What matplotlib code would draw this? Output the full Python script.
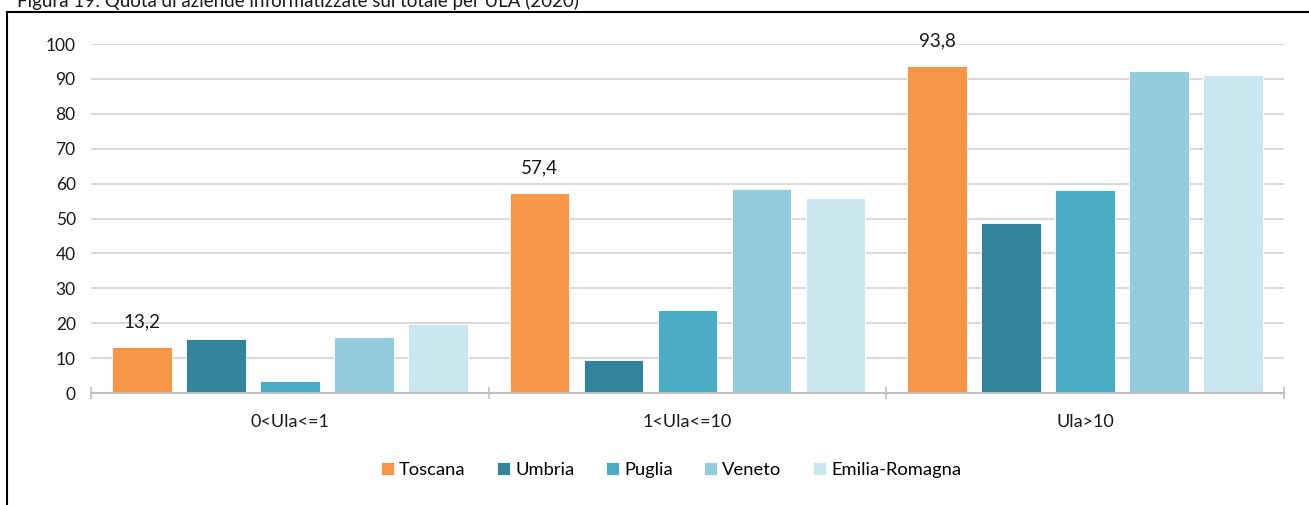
import numpy as np
import matplotlib.pyplot as plt
from matplotlib.patches import Rectangle
from matplotlib.ticker import FixedLocator

plt.rcParams['font.family'] = ['Lato', 'DejaVu Sans']
plt.rcParams['font.size'] = 13

# share of computerised firms by ULA class, per region
categories = ['0<Ula<=1', '1<Ula<=10', 'Ula>10']
regions = ['Toscana', 'Umbria', 'Puglia', 'Veneto', 'Emilia-Romagna']
toscana = [13.2, 57.4, 93.8]
umbria = [15.4, 9.5, 48.7]
puglia = [3.5, 23.8, 58.1]
veneto = [16.0, 58.4, 92.3]
emilia = [19.8, 55.9, 91.1]
colors = ['#F79646', '#31849B', '#4BACC6', '#93CDDD', '#CAE6EE']

series = [toscana, umbria, puglia, veneto, emilia]

fig = plt.figure(figsize=(13.09, 5.05), dpi=100)
ax = fig.add_axes([91 / 1309, 1 - 393 / 505, (1284 - 91) / 1309, (393 - 44) / 505])

x = np.arange(len(categories))
step = 0.186
width = 0.15
for i, (vals, name, c) in enumerate(zip(series, regions, colors)):
    ax.bar(x + (i - 2) * step, vals, width, color=c, label=name,
           edgecolor='white', linewidth=0.6, zorder=3)

# value labels only on the Toscana bars
for xi, v in zip(x, toscana):
    ax.annotate(f'{v:.1f}'.replace('.', ','), (xi - 2 * step, v),
                xytext=(0, 18), textcoords='offset points',
                ha='center', va='center', fontsize=13.5, color='#1a1a1a')

ax.set_xlim(-0.5, 2.5)
ax.set_ylim(0, 100)
ax.set_yticks(range(0, 101, 10))
ax.yaxis.grid(True, color='#d9d9d9', linewidth=1.5, zorder=0)
ax.tick_params(axis='y', length=0, pad=11, labelsize=12.5, labelcolor='#1a1a1a')

ax.set_xticks(x)
ax.set_xticklabels(categories)
ax.xaxis.set_minor_locator(FixedLocator([-0.5, 0.5, 1.5, 2.5]))
ax.tick_params(axis='x', which='major', length=0, pad=15, labelsize=13, labelcolor='#1a1a1a')
ax.tick_params(axis='x', which='minor', direction='inout', length=9, width=1.2, color='#bfbfbf')

for s in ['top', 'right', 'left']:
    ax.spines[s].set_visible(False)
ax.spines['bottom'].set_color('#bfbfbf')
ax.spines['bottom'].set_linewidth(1.5)
ax.spines['bottom'].set_zorder(4)

ax.legend(loc='center', bbox_to_anchor=(671 / 1309, 1 - 470 / 505),
          bbox_transform=fig.transFigure, ncol=5, frameon=False,
          handlelength=0.7, handleheight=0.7, handletextpad=0.3,
          columnspacing=1.7, fontsize=13.2)

# outer frame and figure caption along the top edge
fig.patches.append(Rectangle((7 / 1309, -0.01), 1.5, 1 - 12 / 505 + 0.01,
                             transform=fig.transFigure, fill=False,
                             edgecolor='black', linewidth=1.5))
fig.text(17 / 1309, 1 - 7 / 505,
         'Figura 19: Quota di aziende informatizzate sul totale per ULA (2020)',
         ha='left', va='baseline', fontsize=13.5, color='#1a1a1a')

fig.savefig('out.png', dpi=100)
